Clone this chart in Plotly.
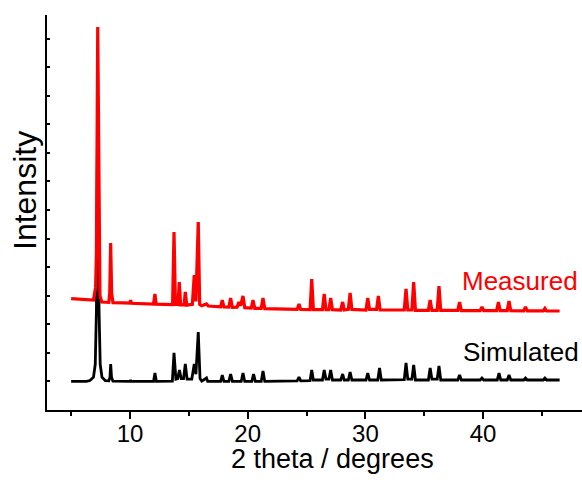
import plotly.graph_objects as go

# ---- data (2-theta in degrees, intensity in arbitrary counts) ----
sim_x = [5.0, 6.3, 6.6, 6.9, 7.05, 7.15, 7.26, 7.37, 7.47, 7.62, 7.9, 8.2, 8.3, 8.36, 8.43, 8.55,
         10.0, 10.06, 10.12, 12.0, 12.12, 12.24, 13.6, 13.74, 13.9, 14.05, 14.2, 14.35, 14.55, 14.7,
         14.85, 15.25, 15.46, 15.6, 15.8, 15.95, 16.1, 16.5, 16.6, 17.7, 17.84, 17.98, 18.4, 18.55,
         18.7, 19.45, 19.6, 19.75, 20.35, 20.5, 20.65, 21.15, 21.3, 21.45, 24.2, 24.36, 24.5, 25.3,
         25.44, 25.58, 26.35, 26.5, 26.65, 26.9, 27.05, 27.2, 27.9, 28.07, 28.2, 28.55, 28.7, 28.85,
         30.05, 30.2, 30.35, 31.05, 31.2, 31.35, 33.3, 33.45, 33.6, 33.95, 34.1, 34.25, 35.35, 35.5,
         35.65, 36.1, 36.25, 36.4, 37.85, 38.0, 38.15, 39.75, 39.9, 40.05, 41.2, 41.35, 41.5, 42.05,
         42.2, 42.35, 43.45, 43.6, 43.75, 45.1, 45.25, 45.4, 46.5]
sim_y = [1000, 1000, 1030, 1150, 1600, 3500, 11000, 3500, 1600, 1150, 1030, 1020, 1150, 1610, 1150, 1010,
         1000, 1050, 1000, 1000, 1300, 1000, 1010, 2000, 1080, 1100, 1400, 1100, 1100, 1610,
         1080, 1080, 1610, 1250, 2730, 1100, 1010, 1120, 1000, 1000, 1225, 1000, 1000, 1260,
         1000, 1000, 1295, 1000, 1000, 1260, 1000, 1000, 1365, 1000, 1020, 1150, 1020, 1030,
         1400, 1050, 1050, 1400, 1080, 1080, 1400, 1050, 1050, 1260, 1050, 1050, 1330, 1050,
         1050, 1295, 1050, 1050, 1470, 1050, 1060, 1645, 1080, 1080, 1575, 1050, 1050, 1470,
         1080, 1080, 1540, 1050, 1050, 1225, 1050, 1050, 1120, 1050, 1050, 1295, 1050, 1050,
         1225, 1050, 1050, 1120, 1050, 1050, 1120, 1050, 1050]

meas_x = [5.0, 5.5, 6.0, 6.5, 6.9, 7.08, 7.15, 7.26, 7.37, 7.45, 7.6, 8.2, 8.28, 8.36, 8.44, 8.55,
          9.5, 10.0, 10.06, 10.12, 12.0, 12.12, 12.22, 13.62, 13.74, 13.86, 14.08, 14.19, 14.3,
          14.6, 14.7, 14.82, 15.3, 15.46, 15.6, 15.8, 15.92, 16.1, 16.5, 16.65, 17.7, 17.84, 17.98,
          18.4, 18.55, 18.7, 19.1, 19.25, 19.4, 19.6, 19.75, 20.3, 20.45, 20.6, 21.15, 21.3, 21.45,
          24.2, 24.36, 24.5, 25.3, 25.44, 25.58, 26.35, 26.5, 26.65, 26.9, 27.05, 27.2, 27.9, 28.07,
          28.2, 28.55, 28.7, 28.85, 30.05, 30.2, 30.35, 30.95, 31.1, 31.25, 33.3, 33.45, 33.6, 33.95,
          34.1, 34.25, 35.35, 35.5, 35.65, 36.1, 36.25, 36.4, 37.85, 38.0, 38.15, 39.75, 39.9, 40.05,
          41.15, 41.3, 41.45, 42.05, 42.2, 42.35, 43.45, 43.6, 43.75, 45.1, 45.25, 45.4, 46.5]
meas_y = [3900, 3880, 3870, 3840, 3850, 4300, 5500, 13405, 5500, 4000, 3780, 3770, 4100, 5845, 4100, 3760,
          3750, 3740, 3850, 3735, 3710, 4060, 3705, 3690, 6230, 3700, 3690, 4480, 3680,
          3680, 4130, 3670, 3700, 4725, 3800, 6580, 3700, 3650, 3710, 3640, 3610, 3850, 3610,
          3600, 3920, 3590, 3600, 3780, 3650, 3990, 3580, 3570, 3850, 3560, 3560, 3920, 3550,
          3520, 3710, 3520, 3510, 4585, 3510, 3510, 4060, 3510, 3510, 3920, 3510, 3500, 3780,
          3500, 3520, 4095, 3520, 3500, 3920, 3520, 3520, 3990, 3500, 3500, 4235, 3500, 3500,
          4480, 3490, 3490, 3850, 3490, 3490, 4340, 3490, 3490, 3780, 3480, 3480, 3605, 3480,
          3480, 3780, 3480, 3480, 3815, 3475, 3470, 3605, 3470, 3470, 3560, 3465, 3465]

x_ticks = [10, 20, 30, 40]
x_title = "2 theta / degrees"
y_title = "Intensity"
series_names = ["Simulated", "Measured"]

FONT = "Liberation Sans, Arial, sans-serif"

fig = go.Figure()
fig.add_trace(go.Scatter(x=sim_x, y=sim_y, mode="lines", name=series_names[0],
                         line=dict(color="black", width=2.8), showlegend=False))
fig.add_trace(go.Scatter(x=meas_x, y=meas_y, mode="lines", name=series_names[1],
                         line=dict(color="#ff0000", width=3.2), showlegend=False))

fig.add_annotation(x=48.2, y=4515, xref="x", yref="y", text=series_names[1], showarrow=False,
                   xanchor="right", yanchor="middle", font=dict(family=FONT, size=26, color="#ff0000"))
fig.add_annotation(x=48.3, y=2030, xref="x", yref="y", text=series_names[0], showarrow=False,
                   xanchor="right", yanchor="middle", font=dict(family=FONT, size=26, color="black"))
# axis titles
fig.add_annotation(x=(332 - 47) / 535, y=(410 - 459) / 395, xref="paper", yref="paper",
                   text=x_title, showarrow=False, xanchor="center", yanchor="middle",
                   font=dict(family=FONT, size=27, color="black"))
fig.add_annotation(x=(25 - 47) / 535, y=(410 - 191) / 395, xref="paper", yref="paper",
                   text=y_title, showarrow=False, xanchor="center", yanchor="middle", textangle=-90,
                   font=dict(family=FONT, size=32, color="black"))

fig.update_layout(
    width=582, height=480,
    margin=dict(l=47, r=0, t=15, b=70),
    plot_bgcolor="white", paper_bgcolor="white",
    font=dict(family=FONT, color="black"),
    xaxis=dict(range=[2.95, 48.4], tickvals=x_ticks, ticktext=[str(v) for v in x_ticks],
               showline=True, linecolor="black", linewidth=2, mirror=False, automargin=False,
               ticks="outside", ticklen=7, tickwidth=2, tickcolor="black", ticklabelstandoff=-6,
               minor=dict(dtick=5, tick0=0, ticks="outside", ticklen=4, tickwidth=2, tickcolor="black"),
               showgrid=False, zeroline=False, tickfont=dict(size=24, family=FONT)),
    yaxis=dict(range=[0, 13825], dtick=1000, tick0=0, showticklabels=False, automargin=False,
               showline=True, linecolor="black", linewidth=2,
               ticks="inside", ticklen=3, tickwidth=1.5, tickcolor="black",
               showgrid=False, zeroline=False),
)

fig.write_html("out.html", config={"displayModeBar": False},
               post_script="document.body.style.margin='0';document.body.style.padding='0';")
